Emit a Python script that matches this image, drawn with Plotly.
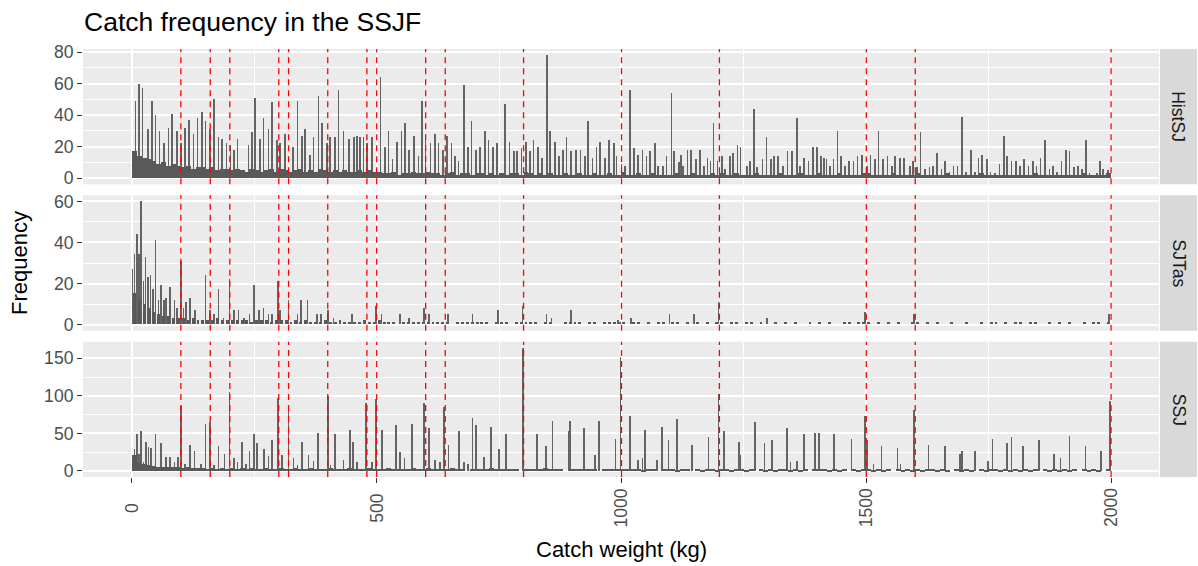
import plotly.graph_objects as go

# ---------------------------------------------------------------- data
PANELS = ["HistSJ", "SJTas", "SSJ"]

# reference catch weights marked with dashed lines (kg)
REF_WEIGHTS = [100, 160, 200, 300, 320, 400, 480, 500, 600, 640,
               800, 1000, 1200, 1500, 1600, 2000]

X_TICKS = [0, 500, 1000, 1500, 2000]
X_TICK_TEXT = ["0", "500", "1000", "1500", "2000"]
X_MINOR = [250, 750, 1250, 1750]

Y_TICKS = {"HistSJ": [0, 20, 40, 60, 80], "SJTas": [0, 20, 40, 60], "SSJ": [0, 50, 100, 150]}
Y_MINOR = {"HistSJ": [10, 30, 50, 70], "SJTas": [10, 30, 50], "SSJ": [25, 75, 125]}

# low-level background counts, one value per 10 kg from 0 kg
BASE_STEP = 10
histsj_base = [
    17, 14, 13, 12, 11, 9, 10, 8, 9, 8,
    7, 8, 6, 7, 7, 6, 7, 5, 6, 6,
    5, 6, 5, 4, 6, 5, 4, 5, 6, 4,
    6, 5, 4, 5, 6, 4, 5, 4, 6, 5,
    4, 5, 4, 5, 4, 4, 5, 4, 5, 4,
    4, 3, 3, 4, 2, 3, 3, 4, 3, 3,
    4, 3, 3, 2, 3, 4, 2, 3, 3, 2,
    3, 3, 2, 3, 2, 3, 2, 3, 3, 2,
    4, 3, 2, 3, 2, 3, 2, 2, 3, 2,
    2, 3, 2, 2, 3, 2, 2, 3, 2, 2,
    4, 2, 2, 3, 2, 2, 3, 2, 2, 2,
    2, 3, 2, 2, 3, 2, 2, 2, 3, 2,
    3, 2, 2, 3, 2, 2, 2, 3, 2, 2,
    2, 2, 3, 2, 2, 2, 3, 2, 2, 2,
    3, 2, 2, 2, 3, 2, 2, 2, 2, 3,
    3, 2, 2, 2, 2, 3, 2, 2, 2, 2,
    3, 2, 2, 2, 2, 2, 3, 2, 2, 2,
    2, 2, 2, 3, 2, 2, 2, 2, 2, 2,
    2, 2, 2, 2, 3, 2, 2, 2, 2, 2,
    2, 2, 2, 2, 3, 2, 2, 2, 2, 3,
]
sjtas_base = [
    15, 12, 10, 8, 6, 5, 4, 4, 3, 3,
    3, 2, 3, 2, 2, 2, 2, 3, 2, 2,
    2, 2, 2, 2, 1, 2, 2, 2, 1, 2,
    2, 2, 1, 2, 1, 2, 1, 1, 1, 2,
    1, 1, 2, 1, 1, 1, 1, 2, 1, 1,
    2, 1, 1, 1, 0, 1, 1, 1, 1, 1,
    1, 1, 1, 1, 1, 0, 1, 1, 1, 1,
    1, 1, 1, 0, 1, 1, 1, 0, 1, 1,
    1, 1, 1, 0, 1, 1, 0, 0, 1, 1,
    1, 1, 0, 1, 1, 0, 1, 1, 1, 1,
    1, 0, 1, 1, 0, 1, 0, 1, 1, 0,
    1, 1, 0, 1, 0, 1, 0, 1, 0, 1,
    1, 0, 1, 1, 0, 1, 1, 0, 1, 0,
    0, 1, 0, 1, 0, 1, 0, 0, 1, 0,
    1, 0, 1, 0, 0, 1, 1, 0, 1, 1,
    1, 0, 1, 0, 1, 0, 1, 0, 0, 1,
    1, 0, 1, 0, 1, 0, 0, 1, 0, 0,
    1, 0, 0, 1, 0, 1, 1, 0, 1, 0,
    1, 1, 0, 1, 1, 0, 0, 1, 0, 1,
    0, 1, 0, 0, 1, 0, 1, 1, 0, 1,
]
ssj_base = [
    21, 11, 9, 8, 7, 6, 6, 5, 5, 5,
    4, 5, 4, 4, 4, 3, 4, 3, 4, 3,
    4, 3, 4, 3, 4, 3, 3, 4, 3, 3,
    4, 3, 3, 4, 3, 3, 4, 3, 3, 3,
    4, 3, 3, 3, 4, 3, 3, 3, 4, 3,
    3, 3, 4, 3, 3, 3, 3, 4, 3, 3,
    4, 3, 3, 3, 3, 4, 3, 3, 0, 3,
    3, 3, 3, 4, 3, 3, 3, 3, 3, 0,
    3, 3, 3, 3, 4, 3, 3, 3, 0, 3,
    3, 3, 3, 3, 3, 0, 3, 3, 3, 3,
    3, 3, 3, 3, 2, 3, 3, 0, 3, 3,
    3, 2, 3, 3, 0, 3, 2, 3, 3, 2,
    3, 3, 2, 3, 3, 2, 3, 0, 3, 2,
    3, 2, 3, 3, 2, 3, 2, 3, 0, 3,
    3, 3, 2, 3, 2, 3, 0, 3, 2, 3,
    3, 2, 3, 2, 3, 0, 3, 2, 3, 2,
    3, 2, 3, 3, 2, 3, 2, 0, 3, 2,
    3, 2, 0, 3, 2, 3, 3, 2, 3, 2,
    3, 2, 3, 2, 3, 0, 3, 2, 3, 2,
    3, 2, 3, 0, 3, 2, 3, 2, 0, 3,
]

# individual catch weights (kg) with their frequencies
histsj_kg = [
    7, 14, 22, 33, 41, 48, 56, 66, 75, 82, 92, 100, 109, 116, 126, 134, 143, 150,
    160, 168, 177, 184, 193, 201, 209, 216, 238, 245, 252, 262, 269, 279, 286, 296,
    303, 313, 329, 338, 347, 354, 364, 371, 381, 388, 398, 405, 415, 422, 432, 443,
    453, 460, 466, 473, 480, 490, 508, 517, 524, 532, 542, 551, 558, 566, 576, 585,
    592, 600, 610, 619, 626, 635, 644, 653, 660, 667, 678, 687, 694, 703, 711, 721,
    728, 738, 746, 762, 771, 780, 787, 796, 805, 813, 820, 829, 838, 848, 854, 864,
    873, 881, 888, 897, 907, 916, 925, 932, 941, 949, 956, 966, 975, 985, 990, 1000,
    1007, 1017, 1025, 1034, 1043, 1051, 1058, 1068, 1075, 1085, 1092, 1102, 1107,
    1118, 1121, 1126, 1135, 1142, 1152, 1160, 1169, 1176, 1182, 1188, 1196, 1205,
    1211, 1222, 1228, 1237, 1243, 1256, 1262, 1271, 1277, 1288, 1296, 1305, 1311,
    1320, 1330, 1339, 1348, 1358, 1365, 1373, 1382, 1391, 1399, 1407, 1414, 1419,
    1426, 1433, 1441, 1448, 1457, 1465, 1474, 1482, 1491, 1501, 1509, 1518, 1525,
    1534, 1543, 1552, 1559, 1569, 1577, 1589, 1596, 1603, 1611, 1620, 1629, 1636,
    1645, 1654, 1661, 1670, 1678, 1686, 1695, 1704, 1714, 1722, 1729, 1737, 1746,
    1754, 1763, 1772, 1781, 1788, 1797, 1806, 1814, 1822, 1831, 1840, 1848, 1856,
    1865, 1874, 1882, 1890, 1899, 1908, 1915, 1924, 1933, 1940, 1949, 1956, 1971,
    1977, 1984, 1994,
]
histsj_n = [
    49, 60, 57, 31, 49, 40, 30, 22, 32, 41, 30, 22, 32, 37, 28, 38, 42, 36,
    31, 50, 26, 25, 22, 21, 18, 25, 21, 29, 51, 25, 38, 31, 48, 24,
    22, 28, 20, 49, 27, 31, 15, 26, 52, 35, 22, 26, 26, 56, 30, 25,
    26, 27, 26, 26, 22, 26, 64, 20, 30, 12, 23, 30, 35, 18, 27, 14,
    49, 25, 22, 28, 22, 18, 27, 22, 14, 11, 59, 20, 36, 18, 20, 30,
    24, 20, 22, 47, 23, 17, 17, 19, 23, 17, 24, 20, 13, 78, 30, 23,
    14, 18, 26, 17, 18, 18, 14, 36, 13, 20, 23, 13, 24, 22, 14, 9,
    8, 56, 19, 15, 18, 14, 17, 22, 8, 8, 14, 54, 17,
    10, 15, 8, 18, 18, 12, 18, 8, 13, 11, 35, 11, 14,
    6, 14, 16, 21, 20, 8, 11, 44, 7, 12, 26, 12, 14,
    14, 8, 17, 17, 38, 8, 13, 11, 20, 20, 14, 13, 12,
    8, 12, 30, 14, 8, 11, 11, 14, 15, 8, 15, 12, 30,
    12, 14, 8, 14, 13, 13, 8, 11, 7, 29, 6, 7, 8,
    16, 6, 11, 4, 8, 8, 39, 4, 18, 4, 13, 15, 12,
    4, 3, 9, 27, 14, 11, 11, 8, 12, 8, 11, 8, 13,
    24, 6, 8, 4, 11, 18, 17, 7, 8, 6, 24, 3, 3,
    11, 6, 5,
]

sjtas_kg = [
    1, 5, 10, 15, 19, 24, 28, 33, 38, 43, 48, 54, 59, 65, 70, 78, 87, 92, 100,
    105, 110, 119, 129, 150, 160, 168, 177, 187, 199, 208, 218, 229, 240, 249,
    259, 269, 279, 286, 298, 303, 320, 338, 345, 359, 378, 386, 400, 412, 449,
    499, 510, 547, 566, 597, 607, 646, 696, 748, 798, 847, 857, 897, 993, 1020,
    1098, 1148, 1198, 1297, 1497, 1597, 1996,
]
sjtas_n = [
    27, 34, 44, 34, 60, 21, 33, 23, 24, 17, 41, 12, 19, 12, 13, 18, 12, 8, 31,
    8, 11, 13, 7, 24, 7, 5, 17, 3, 22, 7, 7, 3, 5, 19,
    7, 8, 5, 5, 21, 7, 12, 5, 12, 12, 5, 5, 7, 3, 5,
    9, 5, 5, 3, 8, 5, 5, 5, 7, 9, 5, 3, 7, 2, 3,
    5, 5, 11, 3, 6, 5, 5,
]

ssj_kg = [
    1, 5, 10, 14, 19, 24, 29, 34, 39, 48, 60, 70, 78, 87, 94, 100, 109, 119, 128,
    141, 150, 159, 168, 177, 189, 199, 209, 216, 225, 233, 240, 249, 255, 270, 279,
    286, 298, 307, 320, 330, 338, 347, 361, 371, 380, 400, 406, 415, 432, 446, 451,
    460, 478, 490, 498, 511, 540, 548, 557, 572, 597, 607, 619, 629, 637, 647, 668,
    678, 687, 696, 703, 719, 733, 750, 764, 799, 828, 846, 859, 893, 895, 923, 946,
    954, 988, 998, 1018, 1034, 1043, 1048, 1073, 1083, 1096, 1113, 1144, 1178, 1198,
    1209, 1240, 1243, 1273, 1292, 1308, 1338, 1345, 1358, 1373, 1395, 1404, 1434,
    1470, 1498, 1501, 1515, 1531, 1564, 1570, 1598, 1627, 1661, 1691, 1695, 1722,
    1748, 1758, 1788, 1797, 1820, 1853, 1884, 1897, 1915, 1948, 1979, 1998,
]
ssj_n = [
    21, 30, 49, 23, 53, 12, 39, 32, 31, 50, 37, 19, 19, 12, 19, 87, 9, 35, 27,
    9, 63, 65, 8, 33, 23, 105, 18, 12, 39, 10, 27, 50, 37, 29, 20,
    41, 97, 21, 88, 17, 8, 39, 21, 13, 51, 100, 8, 49, 15, 55, 39,
    12, 91, 12, 96, 55, 61, 25, 17, 63, 91, 57, 15, 12, 85, 35, 53,
    12, 10, 71, 61, 19, 59, 29, 49, 164, 49, 33, 67, 53, 67, 58, 21,
    67, 43, 152, 73, 15, 17, 55, 15, 59, 41, 69, 35, 45, 103,
    53, 39, 21, 65, 37, 41, 58, 12, 13, 49, 51, 51, 49,
    43, 73, 41, 9, 34, 31, 9, 82, 35, 34, 23, 27, 27,
    13, 43, 38, 45, 34, 41, 23, 18, 47, 34, 27, 93,
]

BASES = {"HistSJ": histsj_base, "SJTas": sjtas_base, "SSJ": ssj_base}
SPIKES = {"HistSJ": (histsj_kg, histsj_n), "SJTas": (sjtas_kg, sjtas_n), "SSJ": (ssj_kg, ssj_n)}

# drawn width (kg) of the background blocks; the sparse panel keeps small gaps
BASE_WIDTH = {"HistSJ": 10, "SJTas": 6, "SSJ": 10}

# ---------------------------------------------------------------- layout geometry
W, H = 1198, 566
ML, MR, MT, MB = 83, 39, 49, 89
PW, PH = W - ML - MR, H - MT - MB
GAP = 11
ph = (PH - 2 * GAP) / 3 / PH
gap = GAP / PH
DOMAINS = {
    "HistSJ": [2 * ph + 2 * gap, 1.0],
    "SJTas": [ph + gap, 2 * ph + gap],
    "SSJ": [0.0, ph],
}

X_DATA = (0, 1998)
span = X_DATA[1] - X_DATA[0]
X_RANGE = [X_DATA[0] - 0.05 * span, X_DATA[1] + 0.05 * span]

BAR = "#595959"
SPIKE = "#646464"
PANEL_BG = "#EBEBEB"
FONT = "Liberation Sans, Arial, sans-serif"
TICK_FONT = dict(family=FONT, size=17.6, color="#4D4D4D")

fig = go.Figure()
layout = dict(
    width=W, height=H,
    margin=dict(l=ML, r=MR, t=MT, b=MB, pad=0),
    paper_bgcolor="white", plot_bgcolor=PANEL_BG,
    barmode="overlay", bargap=0, bargroupgap=0,
    showlegend=False, font=dict(family=FONT),
)

shapes, annotations = [], []
for i, name in enumerate(PANELS):
    k = "" if i == 0 else str(i + 1)
    xa, ya = "x" + k, "y" + k
    base = BASES[name]
    kg, n = SPIKES[name]

    fig.add_trace(go.Bar(
        x=kg, y=n, width=1.3, xaxis=xa, yaxis=ya,
        marker=dict(color=SPIKE, line=dict(width=0)), hoverinfo="skip"))
    fig.add_trace(go.Bar(
        x=[BASE_STEP * j + BASE_STEP / 2 for j in range(len(base))], y=base,
        width=BASE_WIDTH[name], xaxis=xa, yaxis=ya,
        marker=dict(color=BAR, line=dict(width=0)), hoverinfo="skip"))

    top = max(max(n), max(base))
    y_range = [-0.05 * top, 1.05 * top]
    last = i == len(PANELS) - 1

    layout["xaxis" + k] = dict(
        domain=[0, 1], anchor=ya, range=X_RANGE,
        tickvals=X_TICKS, showticklabels=False,
        ticks="outside" if last else "", ticklen=5, tickwidth=1.1, tickcolor="#333333",
        showgrid=True, gridcolor="white", gridwidth=1.5, zeroline=False, showline=False,
        minor=dict(tickvals=X_MINOR, showgrid=True, gridcolor="white", gridwidth=0.75, ticks=""),
        **({} if i == 0 else {"matches": "x"}),
    )
    layout["yaxis" + k] = dict(
        domain=DOMAINS[name], anchor=xa, range=y_range,
        tickvals=Y_TICKS[name], tickfont=TICK_FONT,
        ticks="outside", ticklen=5, tickwidth=1.1, tickcolor="#333333",
        showgrid=True, gridcolor="white", gridwidth=1.5, zeroline=False, showline=False,
        minor=dict(tickvals=Y_MINOR[name], showgrid=True, gridcolor="white", gridwidth=0.75, ticks=""),
    )

    # dashed reference weights
    for w in REF_WEIGHTS:
        shapes.append(dict(
            type="line", xref=xa, yref=ya + " domain", x0=w, x1=w, y0=0, y1=1,
            line=dict(color="#FF0000", width=1.3, dash="6px,5px"), layer="above"))

    # facet strip on the right
    shapes.append(dict(
        type="rect", xref="paper", yref=ya + " domain",
        x0=1.0 + 1 / PW, x1=1.0 + 38 / PW, y0=0, y1=1,
        fillcolor="#D9D9D9", line=dict(width=0), layer="below"))
    annotations.append(dict(
        text=name, xref="paper", yref=ya + " domain", x=1.0 + 19.5 / PW, y=0.5,
        showarrow=False, textangle=90, xanchor="center", yanchor="middle",
        font=dict(family=FONT, size=17.6, color="#1A1A1A")))

# rotated x tick labels, centred under the ticks
for v, t in zip(X_TICKS, X_TICK_TEXT):
    annotations.append(dict(
        text=t, xref="x3", yref="paper", x=v, y=(0 - 31) / PH,
        showarrow=False, textangle=-90, xanchor="center", yanchor="middle",
        font=TICK_FONT))

annotations += [
    dict(text="Catch frequency in the SSJF", xref="paper", yref="paper",
         x=-1 / PW, y=1 + 26.6 / PH, xanchor="left", yanchor="middle", showarrow=False,
         font=dict(family=FONT, size=26.5, color="black")),
    dict(text="Catch weight (kg)", xref="paper", yref="paper",
         x=0.5, y=-72.8 / PH, xanchor="center", yanchor="middle", showarrow=False,
         font=dict(family=FONT, size=22, color="black")),
    dict(text="Frequency", xref="paper", yref="paper",
         x=-64 / PW, y=0.5, xanchor="center", yanchor="middle", showarrow=False,
         textangle=-90, font=dict(family=FONT, size=22, color="black")),
]

layout["shapes"] = shapes
layout["annotations"] = annotations
fig.update_layout(**layout)
fig.write_html("out.html")
